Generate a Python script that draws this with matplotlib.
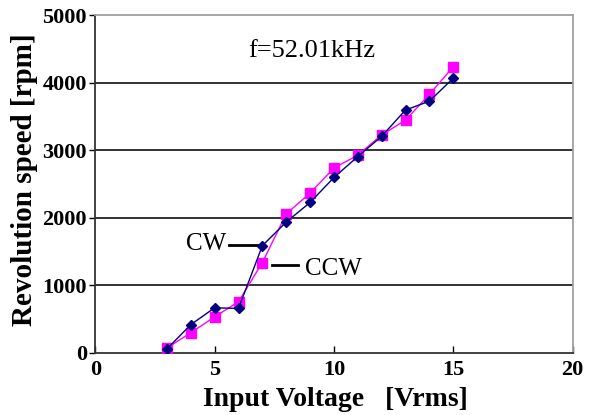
import matplotlib.pyplot as plt

# data
voltage = [3, 4, 5, 6, 7, 8, 9, 10, 11, 12, 13, 14, 15]
speed_cw = [60, 420, 670, 660, 1590, 1940, 2230, 2600, 2910, 3210, 3600, 3730, 4070]
speed_ccw = [75, 300, 535, 760, 1340, 2060, 2370, 2740, 2930, 3230, 3450, 3830, 4240]

plt.rcParams['font.family'] = ['Liberation Serif', 'DejaVu Serif']

fig = plt.figure(figsize=(5.96, 4.15), dpi=100)
ax = fig.add_axes([0.160, 0.1494, 0.8006, 0.8133])

ax.plot(voltage, speed_ccw, color='#FF00FF', lw=1.0, marker='s', ms=6.5, zorder=3)
ax.plot(voltage, speed_cw, color='#000080', lw=1.0, marker='D', ms=5, zorder=4)

ax.set_xlim(0, 20)
ax.set_ylim(0, 5000)
ax.set_xticks([0, 5, 10, 15, 20])
ax.set_yticks([0, 1000, 2000, 3000, 4000, 5000])

for y in [1000, 2000, 3000, 4000]:
    ax.axhline(y, color='#222222', lw=1.3, zorder=1)

ax.spines['top'].set_color('#a0a0a0')
ax.spines['right'].set_color('#a0a0a0')
ax.spines['left'].set_color('#333333')
ax.spines['bottom'].set_color('#333333')
for s in ax.spines.values():
    s.set_linewidth(1.3)

ax.tick_params(axis='x', direction='in', length=5, width=1, pad=5)
ax.tick_params(axis='y', direction='out', length=4, width=1, pad=2)
for lab in ax.get_xticklabels() + ax.get_yticklabels():
    lab.set_fontsize(16)
    lab.set_fontweight('bold')

ax.set_xlabel('Input Voltage   [Vrms]', fontsize=20, fontweight='bold')
ax.set_ylabel('Revolution speed [rpm]', fontsize=21, fontweight='bold')
ax.xaxis.set_label_coords(0.503, -0.1)
ax.yaxis.set_label_coords(-0.12, 0.513)

ax.text(6.4, 4470, 'f=52.01kHz', fontsize=19, va='center')
ax.text(3.8, 1620, 'CW', fontsize=18, va='center')
ax.plot([5.6, 6.8], [1600, 1600], color='black', lw=2)
ax.text(8.8, 1240, 'CCW', fontsize=18, va='center')
ax.plot([7.4, 8.5], [1300, 1300], color='black', lw=2)

fig.savefig('out.png', dpi=100)
